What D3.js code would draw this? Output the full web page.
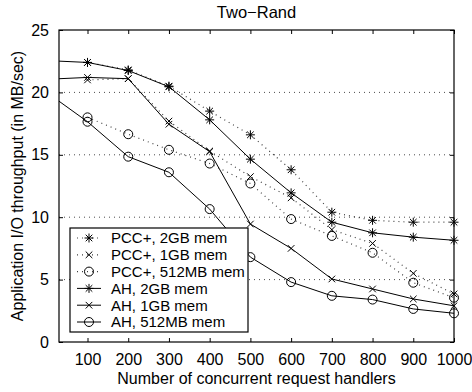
<!DOCTYPE html>
<html>
<head>
<meta charset="utf-8">
<script src="https://cdn.jsdelivr.net/npm/d3@7"></script>
<style>
  body { margin: 0; background: #fff; }
  svg text { font-family: "Liberation Sans", Arial, Helvetica, sans-serif; fill: #000; }
</style>
</head>
<body>
<svg id="chart"></svg>
<script>
// request handler counts (PCC+ runs start at 100, AH runs also have a point at 0)
var handlers = [100, 200, 300, 400, 500, 600, 700, 800, 900, 1000]
var ahHandlers = [0, 100, 200, 300, 400, 500, 600, 700, 800, 900, 1000]

var pcc2gb = [22.4, 21.8, 20.5, 18.5, 16.6, 13.8, 10.4, 9.75, 9.6, 9.6]
var pcc1gb = [21.0, 21.1, 17.7, 15.3, 13.25, 11.55, 9.0, 7.9, 5.5, 3.85]
var pcc512 = [18.0, 16.65, 15.4, 14.3, 12.7, 9.85, 8.5, 7.15, 4.75, 3.55]
var ah2gb = [22.55, 22.4, 21.75, 20.45, 17.8, 14.65, 11.95, 9.6, 8.75, 8.4, 8.15]
var ah1gb = [21.05, 21.2, 21.1, 17.45, 15.25, 9.45, 7.5, 5.05, 4.25, 3.45, 2.9]
var ah512 = [20.0, 17.65, 14.85, 13.6, 10.65, 6.8, 4.8, 3.7, 3.4, 2.65, 2.3]

var xTicks = [100, 200, 300, 400, 500, 600, 700, 800, 900, 1000]
var yTicks = [0, 5, 10, 15, 20, 25]

var series = [
  { name: "PCC+, 2GB mem", x: handlers, y: pcc2gb, marker: "star", dotted: true },
  { name: "PCC+, 1GB mem", x: handlers, y: pcc1gb, marker: "cross", dotted: true },
  { name: "PCC+, 512MB mem", x: handlers, y: pcc512, marker: "circle", dotted: true },
  { name: "AH, 2GB mem", x: ahHandlers, y: ah2gb, marker: "star", dotted: false },
  { name: "AH, 1GB mem", x: ahHandlers, y: ah1gb, marker: "cross", dotted: false },
  { name: "AH, 512MB mem", x: ahHandlers, y: ah512, marker: "circle", dotted: false }
]

var dimensions = {
  width: 472,
  height: 392,
  margin: { top: 30, bottom: 50, right: 18, left: 59 }
}

var svg = d3.select("#chart")
  .attr("width", dimensions.width)
  .attr("height", dimensions.height)

var x0 = dimensions.margin.left
var x1 = dimensions.width - dimensions.margin.right
var y0 = dimensions.height - dimensions.margin.bottom
var y1 = dimensions.margin.top

var xScale = d3.scaleLinear().domain([30, 1000]).range([x0, x1])
var yScale = d3.scaleLinear().domain([0, 25]).range([y0, y1])

svg.append("defs").append("clipPath").attr("id", "plotclip")
  .append("rect")
  .attr("x", x0).attr("y", y1)
  .attr("width", x1 - x0).attr("height", y0 - y1)

// dotted grid on y
svg.append("g")
  .selectAll("line")
  .data(yTicks.slice(1, -1))
  .enter()
  .append("line")
  .attr("x1", x0).attr("x2", x1)
  .attr("y1", d => yScale(d)).attr("y2", d => yScale(d))
  .attr("stroke", "#000")
  .attr("stroke-width", 1)
  .attr("stroke-dasharray", "1,4")
  .attr("opacity", 0.7)

function markerPath(type) {
  if (type == "star") {
    var s = 4.5, d = 3.3
    return "M" + (-s) + ",0H" + s + "M0," + (-s) + "V" + s +
      "M" + (-d) + "," + (-d) + "L" + d + "," + d + "M" + (-d) + "," + d + "L" + d + "," + (-d)
  }
  if (type == "cross") {
    var c = 3.3
    return "M" + (-c) + "," + (-c) + "L" + c + "," + c + "M" + (-c) + "," + c + "L" + c + "," + (-c)
  }
  var r = 4.5
  return "M" + r + ",0A" + r + "," + r + " 0 1,1 " + (-r) + ",0A" + r + "," + r + " 0 1,1 " + r + ",0Z"
}

var line = d3.line()
  .x(d => xScale(d[0]))
  .y(d => yScale(d[1]))

series.forEach(function (s) {
  var pts = s.x.map((v, i) => [v, s.y[i]])
  svg.append("path")
    .datum(pts)
    .attr("clip-path", "url(#plotclip)")
    .attr("d", line)
    .attr("fill", "none")
    .attr("stroke", "#000")
    .attr("stroke-width", s.dotted ? 1.2 : 1)
    .attr("stroke-dasharray", s.dotted ? "1,4" : null)
    .attr("opacity", s.dotted ? 0.75 : 1)

  svg.append("g")
    .selectAll("path")
    .data(pts.filter(p => p[0] >= 30))
    .enter()
    .append("path")
    .attr("transform", d => "translate(" + xScale(d[0]) + "," + yScale(d[1]) + ")")
    .attr("d", markerPath(s.marker))
    .attr("fill", "none")
    .attr("stroke", "#000")
    .attr("stroke-width", 1)
})

// axes box with inward ticks
var xAxisGen = d3.axisBottom(xScale).tickValues(xTicks).tickFormat(d3.format("d"))
  .tickSizeInner(-4).tickSizeOuter(0).tickPadding(12)
var xAxis = svg.append("g")
  .attr("transform", "translate(0," + y0 + ")")
  .call(xAxisGen)
xAxis.selectAll("text").style("font-size", "16px")

var xTopGen = d3.axisTop(xScale).tickValues(xTicks).tickSizeInner(-4).tickSizeOuter(0).tickFormat("")
svg.append("g").attr("transform", "translate(0," + y1 + ")").call(xTopGen)

var yAxisGen = d3.axisLeft(yScale).tickValues(yTicks).tickSizeInner(-4).tickSizeOuter(0).tickPadding(10)
var yAxis = svg.append("g")
  .attr("transform", "translate(" + x0 + ",0)")
  .call(yAxisGen)
yAxis.selectAll("text").style("font-size", "16px")

var yRightGen = d3.axisRight(yScale).tickValues(yTicks).tickSizeInner(-4).tickSizeOuter(0).tickFormat("")
svg.append("g").attr("transform", "translate(" + x1 + ",0)").call(yRightGen)

svg.selectAll(".domain").remove()
svg.append("rect")
  .attr("x", x0).attr("y", y1)
  .attr("width", x1 - x0).attr("height", y0 - y1)
  .attr("fill", "none")
  .attr("stroke", "#000")
  .attr("stroke-width", 1.2)

// titles
svg.append("text")
  .attr("x", (x0 + x1) / 2).attr("y", 18)
  .attr("text-anchor", "middle")
  .style("font-size", "16.5px")
  .text("Two\u2212Rand")

svg.append("text")
  .attr("x", (x0 + x1) / 2).attr("y", 384)
  .attr("text-anchor", "middle")
  .style("font-size", "16px")
  .text("Number of concurrent request handlers")

svg.append("text")
  .attr("transform", "translate(23," + (y0 + y1) / 2 + ") rotate(-90)")
  .attr("text-anchor", "middle")
  .style("font-size", "16px")
  .text("Application I/O throughput (in MB/sec)")

// legend
var legend = svg.append("g")
legend.append("rect")
  .attr("x", 70).attr("y", 228)
  .attr("width", 178).attr("height", 104)
  .attr("fill", "#fff")
  .attr("stroke", "#000")
  .attr("stroke-width", 1.2)

var rows = legend.selectAll("g.row")
  .data(series)
  .enter()
  .append("g")
  .attr("transform", (d, i) => "translate(0," + (238 + i * 16.8) + ")")

rows.append("line")
  .attr("x1", 77).attr("x2", 101)
  .attr("stroke", "#000")
  .attr("stroke-width", d => d.dotted ? 1.2 : 1)
  .attr("stroke-dasharray", d => d.dotted ? "1,4" : null)
  .attr("opacity", d => d.dotted ? 0.75 : 1)

rows.append("path")
  .attr("transform", "translate(89,0)")
  .attr("d", d => markerPath(d.marker))
  .attr("fill", "none")
  .attr("stroke", "#000")

rows.append("text")
  .attr("x", 111).attr("dy", "0.36em")
  .style("font-size", "15px")
  .text(d => d.name)
</script>
</body>
</html>
